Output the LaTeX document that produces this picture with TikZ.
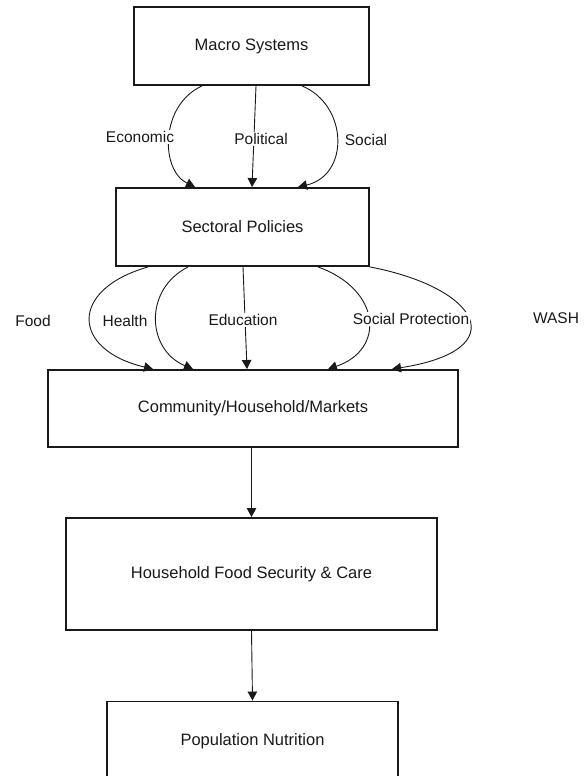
\documentclass[tikz,border=0pt]{standalone}
\usepackage{fontspec}
\setmainfont{Liberation Sans}
\usetikzlibrary{arrows.meta}
\definecolor{ink}{RGB}{25,25,25}
\tikzset{
  box/.style={draw=ink, line width=1.9pt, rectangle, inner sep=0pt, text=ink,
    font=\fontsize{16.5}{19}\selectfont},
  lbl/.style={fill=white, inner sep=1.2pt, text=ink, font=\fontsize{15.5}{18}\selectfont},
  arr/.style={draw=ink, line width=0.9pt, -{Triangle[length=9pt,width=9.5pt]}},
}
\begin{document}
\begin{tikzpicture}[x=1pt,y=-1pt]
\useasboundingbox (0,0) rectangle (585,776);
\clip (0,0) rectangle (585,776);
% boxes
\node[box, minimum width=235pt, minimum height=78pt] (M) at (251.5,46) {Macro Systems};
\node[box, minimum width=253pt, minimum height=78pt] (S) at (242.5,227) {Sectoral Policies};
\node[box, minimum width=410pt, minimum height=77pt] (C) at (253,408.5) {Community/Household/Markets};
\node[box, minimum width=371pt, minimum height=112pt] (H) at (251.5,574) {Household Food Security \& Care};
\node[box, minimum width=291pt, minimum height=80pt] (P) at (252.5,741.5) {Population Nutrition};

% macro -> sectoral
\draw[arr] ([xshift=-49.5pt]M.south) .. controls (160,105) and (160,170) .. ([xshift=-47.5pt]S.north);
\draw[arr] ([xshift=4.5pt]M.south) -- ([xshift=9.5pt]S.north);
\draw[arr] ([xshift=50.5pt]M.south) .. controls (348,105) and (350,175) .. ([xshift=55.5pt]S.north);
\node[lbl] (eco) at (140,137) {Economic};
\node[lbl] (pol) at (261,139) {Political};
\node[lbl] (soc) at (366,140) {Social};

% sectoral -> community
\draw[arr] ([xshift=-94.5pt]S.south) .. controls (68,290) and (72,350) .. ([xshift=-100pt]C.north);
\draw[arr] ([xshift=-54.5pt]S.south) .. controls (143,290) and (147,350) .. ([xshift=-60pt]C.north);
\draw[arr] ([xshift=0.5pt]S.south) -- ([xshift=-6pt]C.north);
\draw[arr] ([xshift=75.5pt]S.south) .. controls (382,290) and (385,350) .. ([xshift=75pt]C.north);
\draw[arr] (S.south east) .. controls (480,288) and (515,350) .. ([xshift=139pt]C.north);
\node[lbl] (food) at (33,321) {Food};
\node[lbl] (health) at (125,321) {Health};
\node[lbl] (edu) at (243,320) {Education};
\node[lbl] (sp) at (411,319) {Social Protection};
\node[lbl] (wash) at (556,318) {WASH};

% vertical chain
\draw[arr] (H.north |- C.south) -- (H.north);
\draw[arr] (H.south) -- (P.north);
\end{tikzpicture}
\end{document}
